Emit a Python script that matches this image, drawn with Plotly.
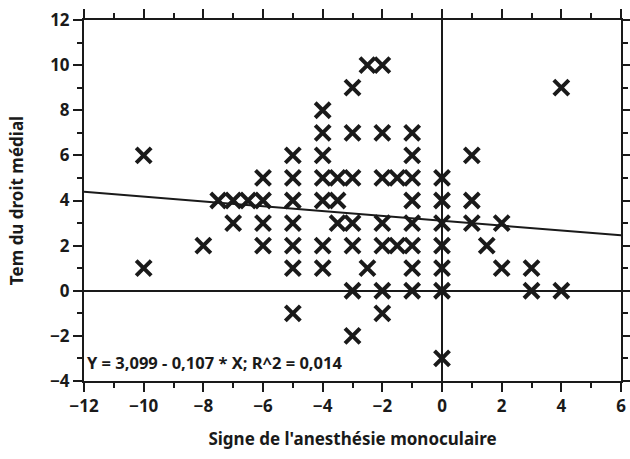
import plotly.graph_objects as go

# Data
x_vals = [-10, -10,
          -8,
          -7.5,
          -7, -7,
          -6.5,
          -6, -6, -6, -6,
          -5, -5, -5, -5, -5, -5, -5,
          -4, -4, -4, -4, -4, -4, -4,
          -3.5, -3.5, -3.5,
          -3, -3, -3, -3, -3, -3, -3,
          -2.5, -2.5,
          -2, -2, -2, -2, -2, -2, -2,
          -1.5, -1.5,
          -1, -1, -1, -1, -1, -1, -1, -1,
          0, 0, 0, 0, 0, 0, 0,
          1, 1, 1,
          1.5,
          2, 2,
          3, 3,
          4, 4]
y_vals = [6, 1,
          2,
          4,
          4, 3,
          4,
          5, 4, 3, 2,
          6, 5, 4, 3, 2, 1, -1,
          8, 7, 6, 5, 4, 2, 1,
          5, 4, 3,
          9, 7, 5, 3, 2, 0, -2,
          10, 1,
          10, 7, 5, 3, 2, 0, -1,
          5, 2,
          7, 6, 5, 4, 3, 2, 1, 0,
          5, 4, 3, 2, 1, 0, -3,
          6, 4, 3,
          2,
          3, 1,
          1, 0,
          9, 0]

intercept = 3.099
slope = -0.107
fit_x = [-12, 6]
fit_y = [intercept + slope * v for v in fit_x]

x_range = [-12, 6]
y_range = [-4, 12]

x_title = "Signe de l'anesthésie monoculaire"
y_title = "Tem du droit médial"
eq_text = "Y = 3,099 - 0,107 * X; R^2 = 0,014"

ink = "#1a1a1a"
font_family = "Noto Sans"

fig = go.Figure()
fig.add_trace(go.Scatter(
    x=fit_x, y=fit_y, mode="lines",
    line=dict(color=ink, width=2), hoverinfo="skip", showlegend=False))
fig.add_trace(go.Scatter(
    x=x_vals, y=y_vals, mode="markers",
    marker=dict(symbol="x-thin", size=15, color=ink,
                line=dict(color=ink, width=4)),
    showlegend=False))

axis_common = dict(
    showgrid=False, showline=True, linecolor=ink, linewidth=2,
    mirror="allticks", ticks="outside", ticklen=9, tickwidth=2, tickcolor=ink,
    zeroline=True, zerolinecolor=ink, zerolinewidth=2,
    tickfont=dict(family=font_family, size=17, color=ink, weight="bold"),
    automargin=False,
)

fig.update_layout(
    width=630, height=459,
    margin=dict(l=84, r=9, t=20, b=78),
    paper_bgcolor="white", plot_bgcolor="white",
    xaxis=dict(
        range=x_range, dtick=2, tick0=0,
        minor=dict(dtick=1, ticklen=5),
        title=dict(text=x_title, standoff=17,
                   font=dict(family=font_family, size=17, color=ink, weight="bold")),
        **axis_common),
    yaxis=dict(
        range=y_range, dtick=2, tick0=0,
        minor=dict(dtick=1, ticklen=5),
        title=dict(text=y_title, standoff=22,
                   font=dict(family=font_family, size=17, color=ink, weight="bold")),
        **axis_common),
    annotations=[dict(
        text=eq_text, xref="x", yref="y", x=-11.95, y=-3.2,
        xanchor="left", yanchor="middle", showarrow=False,
        font=dict(family=font_family, size=16.5, color=ink, weight="bold"))],
)

fig.write_html("out.html")
